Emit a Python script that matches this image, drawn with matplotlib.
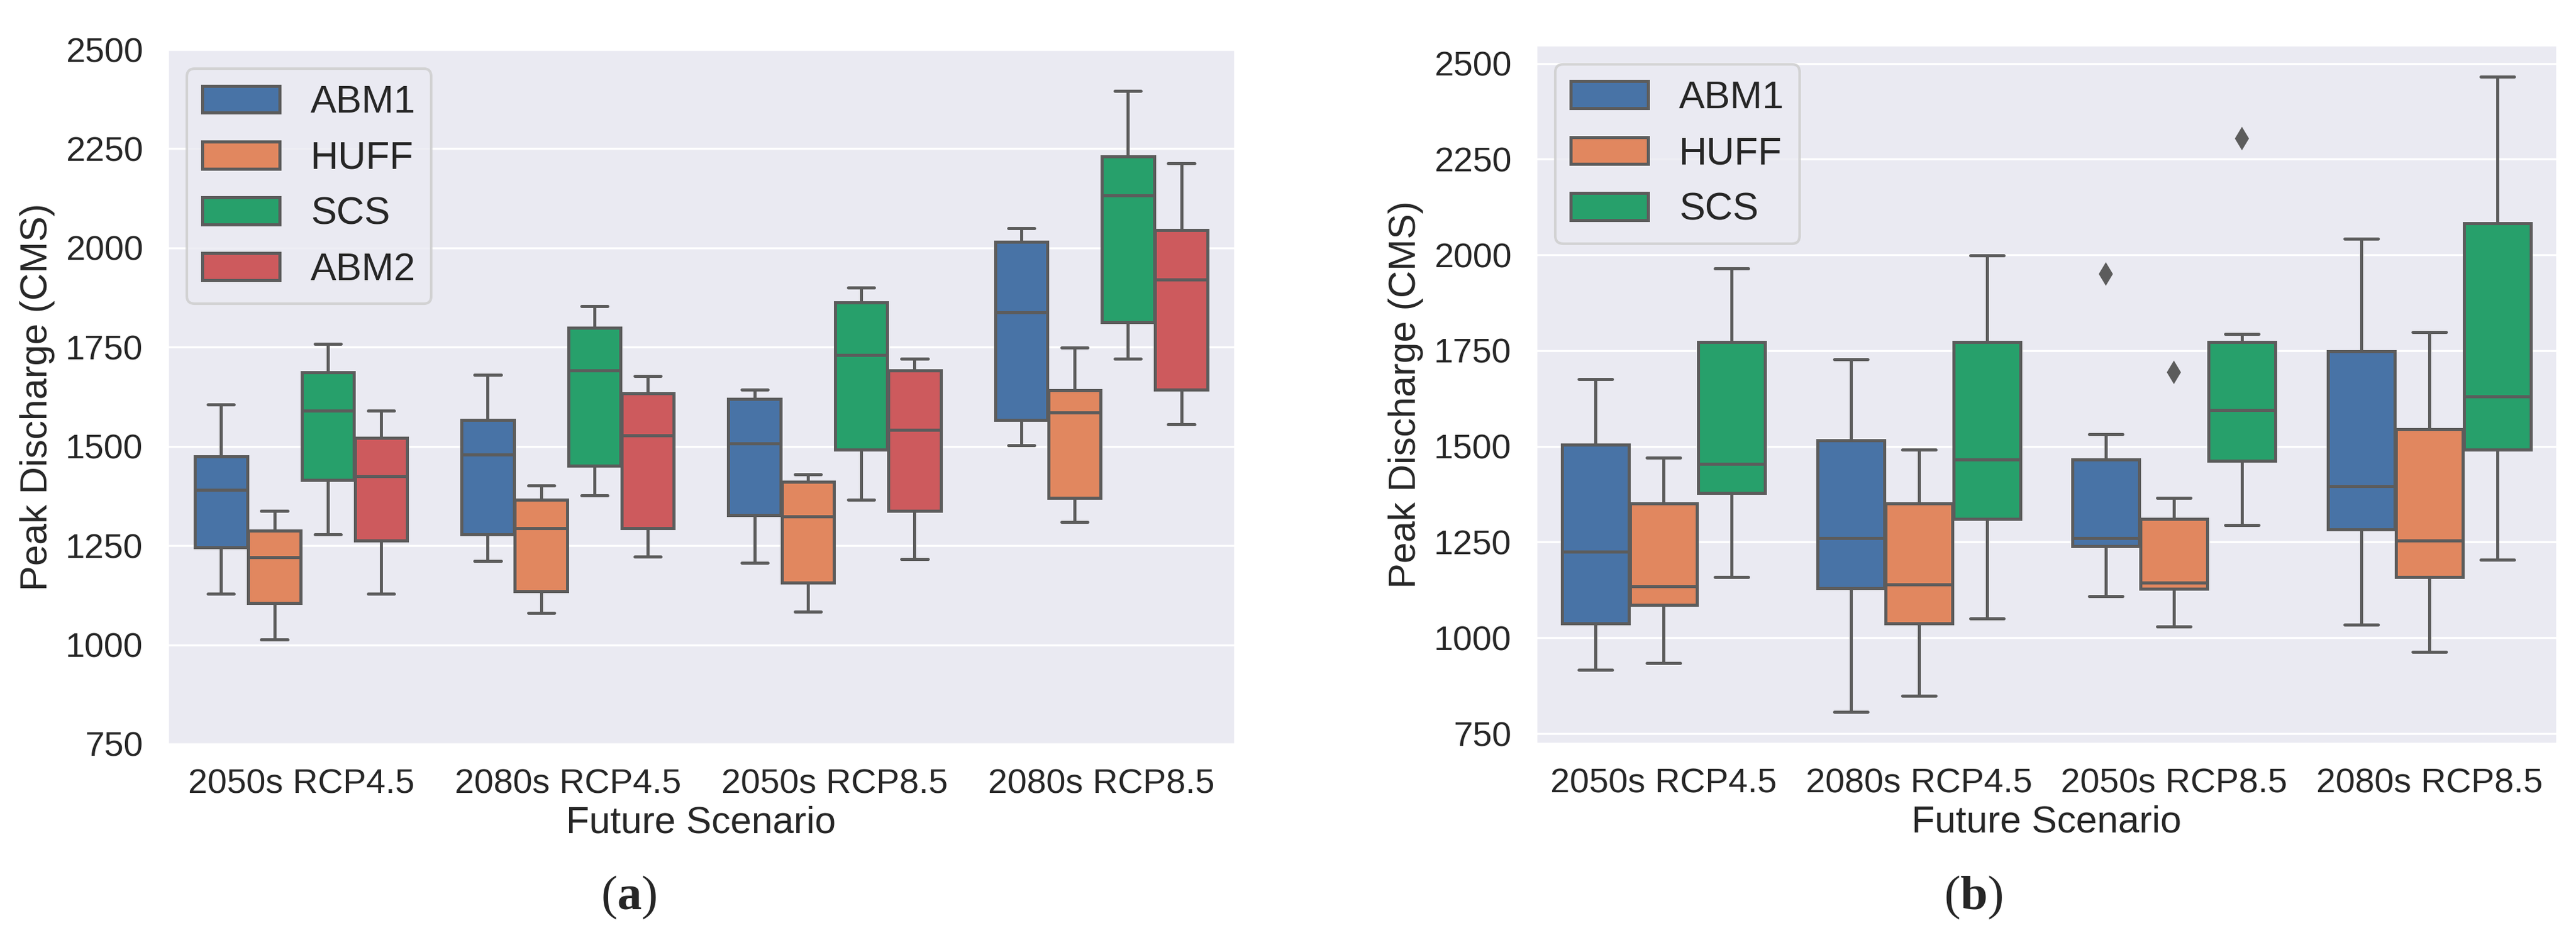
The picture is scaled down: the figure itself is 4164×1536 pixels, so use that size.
import matplotlib
matplotlib.use("Agg")
import matplotlib.pyplot as plt
import seaborn as sns
from matplotlib.patches import Patch
from matplotlib.ticker import MultipleLocator

sns.set_style("darkgrid")
plt.rcParams["font.family"] = ["Liberation Sans", "DejaVu Sans"]
plt.rcParams["mathtext.fontset"] = "custom"
plt.rcParams["mathtext.rm"] = "Liberation Serif"
plt.rcParams["mathtext.bf"] = "Liberation Serif:bold"

scenarios = ["2050s RCP4.5", "2080s RCP4.5", "2050s RCP8.5", "2080s RCP8.5"]
methods_a = ["ABM1", "HUFF", "SCS", "ABM2"]
methods_b = ["ABM1", "HUFF", "SCS"]
colors = {"ABM1": "#4873A6", "HUFF": "#E1875F", "SCS": "#27A06B", "ABM2": "#CD5A5D"}

# each entry: (low whisker, Q1, median, Q3, high whisker), one per scenario
a_abm1 = [(1129, 1245, 1391, 1474, 1605), (1211, 1278, 1480, 1567, 1681),
          (1207, 1327, 1507, 1619, 1643), (1503, 1567, 1837, 2016, 2050)]
a_huff = [(1013, 1106, 1220, 1287, 1338), (1080, 1135, 1294, 1365, 1402),
          (1084, 1156, 1324, 1410, 1430), (1309, 1371, 1585, 1642, 1749)]
a_scs = [(1278, 1416, 1590, 1686, 1759), (1376, 1452, 1692, 1798, 1853),
         (1365, 1492, 1730, 1862, 1900), (1721, 1813, 2133, 2230, 2396)]
a_abm2 = [(1129, 1262, 1425, 1521, 1590), (1222, 1294, 1527, 1633, 1677),
          (1216, 1338, 1541, 1692, 1721), (1556, 1643, 1920, 2045, 2213)]

b_abm1 = [(917, 1038, 1225, 1505, 1675), (807, 1130, 1261, 1516, 1727),
          (1108, 1239, 1261, 1466, 1532), (1034, 1283, 1396, 1748, 2043)]
b_huff = [(934, 1086, 1135, 1351, 1470), (848, 1038, 1139, 1351, 1491),
          (1029, 1128, 1144, 1311, 1365), (963, 1158, 1254, 1545, 1798)]
b_scs = [(1158, 1379, 1455, 1772, 1964), (1050, 1311, 1466, 1772, 1999),
         (1294, 1463, 1595, 1772, 1794), (1204, 1491, 1631, 2082, 2465)]

# outlier points per scenario
b_abm1_out = [[], [], [1950], []]
b_huff_out = [[], [], [1694], []]
b_scs_out = [[], [], [2304], []]

edge = "#5c5c5c"
lw = 1.2


def draw_boxes(ax, series, names, outliers=None):
    n = len(names)
    w = 0.8 / n
    for i, name in enumerate(names):
        stats = []
        for j, (lo, q1, med, q3, hi) in enumerate(series[i]):
            fl = outliers[i][j] if outliers else []
            stats.append(dict(whislo=lo, q1=q1, med=med, q3=q3, whishi=hi, fliers=fl))
        pos = [j - 0.4 + w * (i + 0.5) for j in range(len(scenarios))]
        ax.bxp(stats, positions=pos, widths=w * 0.98, capwidths=w * 0.49,
               patch_artist=True, manage_ticks=False,
               boxprops=dict(facecolor=colors[name], edgecolor=edge, linewidth=lw),
               medianprops=dict(color=edge, linewidth=lw),
               whiskerprops=dict(color=edge, linewidth=lw),
               capprops=dict(color=edge, linewidth=lw),
               flierprops=dict(marker="d", markerfacecolor=edge, markeredgecolor=edge,
                               markersize=5))
    ax.set_xticks(range(len(scenarios)))
    ax.set_xticklabels(scenarios)
    ax.set_xlim(-0.5, len(scenarios) - 0.5)
    ax.xaxis.grid(False)
    ax.yaxis.set_major_locator(MultipleLocator(250))
    ax.tick_params(labelsize=13.5, pad=6)
    ax.set_xlabel("Future Scenario", fontsize=14.7, labelpad=2)
    ax.set_ylabel("Peak Discharge (CMS)", fontsize=14.7)
    handles = [Patch(facecolor=colors[m], edgecolor=edge, linewidth=lw, label=m) for m in names]
    ax.legend(handles=handles, loc="upper left", fontsize=15)


fig = plt.figure(figsize=(13.88, 5.12), dpi=300)
ax1 = fig.add_axes([0.0651, 0.2168, 0.4142, 0.7311])
ax2 = fig.add_axes([0.5963, 0.2174, 0.3963, 0.7351])

draw_boxes(ax1, [a_abm1, a_huff, a_scs, a_abm2], methods_a)
ax1.set_ylim(750, 2500)

draw_boxes(ax2, [b_abm1, b_huff, b_scs], methods_b, [b_abm1_out, b_huff_out, b_scs_out])

fig.text(0.244, 0.055, r"($\mathbf{a}$)", family="Liberation Serif", fontsize=19,
         ha="center", va="center")
fig.text(0.766, 0.055, r"($\mathbf{b}$)", family="Liberation Serif", fontsize=19,
         ha="center", va="center")

plt.savefig("out.png", dpi=300)
